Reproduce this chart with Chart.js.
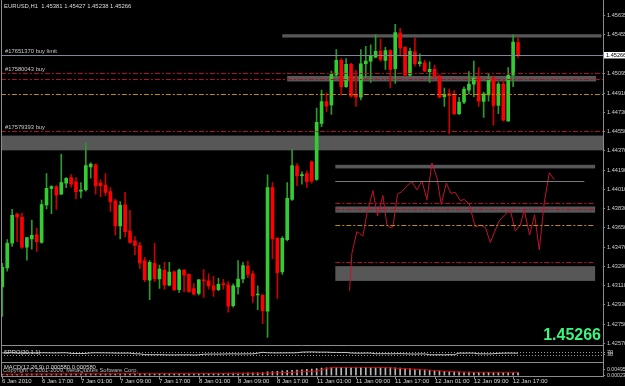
<!DOCTYPE html>
<html>
<head>
<meta charset="utf-8">
<script src="https://cdn.jsdelivr.net/npm/chart.js@4.4.1/dist/chart.umd.min.js"></script>
<style>
html,body{margin:0;padding:0;background:#000;}
body{width:625px;height:386px;position:relative;overflow:hidden;}
canvas{position:absolute;left:0;}
</style>
</head>
<body>
<canvas id="mainC" width="625" height="386" style="top:0"></canvas>
<canvas id="oscC" width="625" height="17" style="top:345px"></canvas>
<canvas id="macdC" width="625" height="24" style="top:362px"></canvas>
<script>
// ---------------- DATA ----------------
const symbolTitle = 'EURUSD,H1  1.45381 1.45427 1.45238 1.45266';
const timeLabels = ['6 Jan 2010','6 Jan 17:00','7 Jan 01:00','7 Jan 09:00','7 Jan 17:00','8 Jan 01:00','8 Jan 09:00','8 Jan 17:00','11 Jan 01:00','11 Jan 09:00','11 Jan 17:00','12 Jan 01:00','12 Jan 09:00','12 Jan 17:00'];
const timeLabelIdx = [0,8,16,24,32,40,48,56,64,72,80,88,96,104];
const priceTicks = [1.45635,1.45455,1.45095,1.44910,1.44730,1.44550,1.44370,1.44190,1.44010,1.43830,1.43650,1.43470,1.43290,1.43110,1.42930,1.42750,1.42570];
const lastPrice = 1.45266;

const opens = [
1.43097,1.43275,1.43505,1.43779,1.43748,1.43468,1.43546,1.43585,1.43514,1.43864,
1.44018,1.44036,1.43965,1.44067,1.44119,1.44080,1.43993,1.44006,1.44220,1.44239,
1.44067,1.44048,1.43988,1.43901,1.43668,1.43864,1.43619,1.43527,1.43484,1.43343,
1.43159,1.43318,1.43171,1.43251,1.43113,1.43238,1.43070,1.43254,1.43214,1.43082,
1.43036,1.43159,1.43153,1.43107,1.43070,1.43125,1.43116,1.42922,1.43097,1.43171,
1.43291,1.43220,1.43021,1.43021,1.42870,1.44027,1.43551,1.43238,1.43539,1.43914,
1.44227,1.44138,1.44156,1.44266,1.44103,1.44625,1.44831,1.44800,1.45079,1.45215,
1.44969,1.45178,1.44892,1.44871,1.45184,1.45208,1.45245,1.45300,1.45215,1.45307,
1.45138,1.45470,1.45337,1.45076,1.45295,1.45184,1.45193,1.45111,1.45132,1.45070,
1.44877,1.44902,1.44886,1.44717,1.44825,1.44938,1.44994,1.45055,1.44831,1.44892,
1.45049,1.44794,1.44994,1.44650,1.45076,1.45381];
const highs = [
1.43318,1.43539,1.43822,1.43788,1.43788,1.43558,1.43723,1.43647,1.43910,1.44156,
1.44045,1.44045,1.44340,1.44119,1.44147,1.44119,1.44073,1.44441,1.44257,1.44248,
1.44098,1.44156,1.44027,1.43919,1.43895,1.43981,1.43813,1.43567,1.43514,1.43374,
1.43343,1.43505,1.43300,1.43327,1.43327,1.43245,1.43266,1.43258,1.43220,1.43128,
1.43168,1.43260,1.43220,1.43196,1.43177,1.43168,1.43146,1.43125,1.43343,1.43327,
1.43337,1.43245,1.43107,1.43024,1.44144,1.44073,1.43558,1.43567,1.44073,1.44386,
1.44251,1.44174,1.44181,1.44276,1.44770,1.44938,1.44911,1.45116,1.45316,1.45233,
1.45233,1.45187,1.45125,1.45316,1.45346,1.45362,1.45454,1.45414,1.45337,1.45316,
1.45552,1.45516,1.45343,1.45331,1.45424,1.45276,1.45215,1.45203,1.45171,1.45076,
1.44957,1.44948,1.44932,1.44871,1.44969,1.45111,1.45208,1.45147,1.44920,1.45086,
1.45070,1.45009,1.45024,1.45147,1.45454,1.45427];
const lows = [
1.42821,1.43245,1.43475,1.43521,1.43456,1.43346,1.43450,1.43429,1.43505,1.43827,
1.43781,1.43822,1.43963,1.44024,1.44030,1.43919,1.43929,1.43993,1.44113,1.43965,
1.43941,1.43951,1.43803,1.43582,1.43546,1.43567,1.43505,1.43398,1.43270,1.43146,
1.42978,1.43146,1.43082,1.43076,1.43107,1.43061,1.43045,1.43051,1.43045,1.43021,
1.43021,1.42999,1.43076,1.43008,1.43061,1.43076,1.42861,1.42907,1.43030,1.43137,
1.43183,1.42953,1.42883,1.42754,1.42625,1.43362,1.42990,1.43214,1.43527,1.43905,
1.44043,1.44057,1.44027,1.44067,1.44092,1.44595,1.44733,1.44711,1.45055,1.44892,
1.44963,1.44871,1.44785,1.44846,1.45055,1.45009,1.45239,1.45208,1.45132,1.44957,
1.45000,1.45254,1.45067,1.45067,1.45162,1.45162,1.45111,1.45009,1.45058,1.44865,
1.44785,1.44527,1.44708,1.44708,1.44810,1.44902,1.44877,1.44785,1.44681,1.44834,
1.44610,1.44717,1.44650,1.44644,1.44969,1.45238];
const closes = [
1.43281,1.43505,1.43767,1.43748,1.43468,1.43558,1.43579,1.43521,1.43868,1.44018,
1.44036,1.43956,1.44073,1.44113,1.44057,1.43988,1.44002,1.44232,1.44245,1.44043,
1.44043,1.43981,1.43895,1.43668,1.43859,1.43613,1.43514,1.43484,1.43321,1.43165,
1.43327,1.43174,1.43263,1.43116,1.43235,1.43070,1.43254,1.43208,1.43054,1.43030,
1.43162,1.43153,1.43107,1.43067,1.43122,1.43119,1.42916,1.43107,1.43171,1.43297,
1.43214,1.43012,1.43027,1.42874,1.44027,1.43546,1.43229,1.43551,1.43926,1.44232,
1.44135,1.44144,1.44082,1.44089,1.44635,1.44831,1.44788,1.45086,1.45215,1.44969,
1.45178,1.44880,1.44871,1.45184,1.45208,1.45261,1.45300,1.45224,1.45307,1.45132,
1.45475,1.45331,1.45076,1.45300,1.45184,1.45203,1.45116,1.45132,1.45065,1.44871,
1.44895,1.44886,1.44717,1.44825,1.44948,1.44994,1.45049,1.44834,1.44902,1.45040,
1.44794,1.44994,1.44656,1.45076,1.45387,1.45266];

// overlay red line (bar position, price)
const overlayX = [70.69,71.18,72.19,72.72,73.42,74.23,75.45,76.39,77.49,78.31,78.98,79.53,80.46,81.36,82.24,83.40,84.41,85.43,86.45,87.47,88.49,89.37,90.39,91.34,92.22,93.24,94.05,95.07,96.29,97.45,98.39,99.35,100.37,101.18,102.20,103.42,104.44,105.46,106.27,107.35,108.37,109.33,110.35,111.37,112.38];
const overlayY = [1.43061,1.43413,1.43613,1.43597,1.43573,1.43781,1.43997,1.43760,1.43951,1.43675,1.43652,1.43659,1.43965,1.43988,1.44034,1.44080,1.44004,1.44089,1.43912,1.44257,1.44119,1.43868,1.44067,1.43972,1.43981,1.43905,1.43914,1.43873,1.43659,1.43675,1.43650,1.43512,1.43629,1.43714,1.43767,1.43818,1.43622,1.43675,1.43818,1.43582,1.43772,1.43444,1.43889,1.44165,1.44098];

// grey zones (price top, price bottom, from bar, to bar)
const zoneTop    = [1.45460,1.45070,1.44512,1.44239,1.43849,1.43291];
const zoneBottom = [1.45429,1.45018,1.44374,1.44205,1.43791,1.43153];
const zoneFrom   = [57.0,58.0,-0.3,67.8,67.8,67.8];
const zoneTo     = [122.0,120.9,122.3,120.7,120.7,120.7];

// horizontal levels
const levelPrice = [1.45266,1.45098,1.45037,1.44899,1.44552,1.44089,1.43877,1.43822,1.43677,1.43328];
const levelKind  = ['bid','order','order','gold','order','grey','order','order','gold','order'];
const levelFrom  = [-0.3,-0.3,-0.3,-0.3,-0.3,67.8,67.8,67.8,67.8,67.8];
const levelTo    = [122.3,122.3,122.3,122.3,122.3,118.5,120.7,120.7,120.7,120.7];
const orderText  = ['#17651370 buy limit','#17580043 buy','','','#17579393 buy','','','','',''];

// oscillator (0..100)
const oscName = 'SPRO(30,1.1)';
const oscValues = [
60,61,62,60,58,59,61,60,62,61,
60,59,61,62,52,50,49,51,60,62,
61,60,59,57,56,57,56,46,44,32,
31,30,32,29,28,27,29,28,30,26,
29,38,40,41,40,42,44,45,43,44,
45,44,55,69,62,60,59,60,61,60,
62,72,74,75,73,71,72,68,67,66,
67,58,56,55,57,56,47,46,48,45,
47,48,46,42,41,43,44,30,29,31,
28,32,30,56,55,57,56,45,46,44,
47,53,55,57,56,55];
const oscLevels = [70,30];

// MACD
const macdName = 'MACD(12,26,9) 0.000580 0.000580';
const copyrightText = 'Copyright \u00a9 2001-2009, MetaQuotes Software Corp.';
const macdLabels = [0.00495,0.00023];
const macdMain = [
0.0010,0.0010,0.0011,0.0011,0.0011,0.0012,0.0012,0.0012,0.0013,0.0013,
0.0013,0.0013,0.0014,0.0014,0.0014,0.0014,0.0015,0.0015,0.0015,0.0016,
0.0016,0.0016,0.0016,0.0016,0.0016,0.0017,0.0017,0.0017,0.0017,0.0017,
0.0017,0.0017,0.0018,0.0018,0.0018,0.0018,0.0018,0.0018,0.0019,0.0019,
0.0019,0.0019,0.0019,0.0020,0.0020,0.0020,0.0021,0.0021,0.0022,0.0022,
0.0023,0.0024,0.0025,0.0026,0.0033,0.0036,0.0038,0.0041,0.0044,0.0047,
0.0049,0.0051,0.0055,0.0058,0.0062,0.0066,0.0069,0.0072,0.0073,0.0074,
0.0074,0.0074,0.0073,0.0073,0.0073,0.0072,0.0072,0.0072,0.0071,0.0070,
0.0068,0.0066,0.0064,0.0061,0.0058,0.0055,0.0051,0.0047,0.0044,0.0041,
0.0038,0.0036,0.0034,0.0032,0.0031,0.0030,0.0029,0.0029,0.0028,0.0028,
0.0027,0.0027,0.0026,0.0026,0.0026,0.0026];
const macdSignal = [
0.0013,0.0013,0.0013,0.0013,0.0013,0.0013,0.0013,0.0013,0.0014,0.0014,
0.0014,0.0014,0.0014,0.0014,0.0014,0.0015,0.0015,0.0015,0.0015,0.0015,
0.0015,0.0015,0.0015,0.0016,0.0016,0.0016,0.0016,0.0016,0.0016,0.0016,
0.0016,0.0016,0.0017,0.0017,0.0017,0.0017,0.0017,0.0017,0.0017,0.0017,
0.0018,0.0018,0.0018,0.0018,0.0018,0.0018,0.0018,0.0019,0.0019,0.0019,
0.0019,0.0020,0.0020,0.0021,0.0022,0.0023,0.0024,0.0026,0.0027,0.0029,
0.0031,0.0033,0.0035,0.0037,0.0039,0.0050,0.0062,0.0070,0.0072,0.0073,
0.0073,0.0073,0.0073,0.0073,0.0073,0.0073,0.0072,0.0072,0.0071,0.0068,
0.0066,0.0063,0.0061,0.0058,0.0055,0.0052,0.0050,0.0049,0.0045,0.0042,
0.0039,0.0037,0.0034,0.0032,0.0030,0.0029,0.0029,0.0029,0.0029,0.0029,
0.0029,0.0029,0.0029,0.0029,0.0029,0.0029];

// ---------------- RENDER ----------------
const FONT = '"Liberation Sans", Arial, sans-serif';
Chart.defaults.font.family = FONT;
const X_MIN = -0.27, X_MAX = 122.3;
const GREEN = '#32cd32', RED = '#ff0000', GREEN_W = '#2a9a2a', RED_W = '#c80000';
const FRAME = '#8c8c8c';
const isUp = i => closes[i] >= opens[i];

function px(chart, v){ return chart.scales.x.getPixelForValue(v); }
function py(chart, v){ return chart.scales.y.getPixelForValue(v); }

const mainPlugin = {
  id: 'mainDecor',
  beforeDatasetsDraw(chart){
    const c = chart.ctx; c.save();
    zoneTop.forEach((t,i)=>{
      const x0 = px(chart, zoneFrom[i]), x1 = px(chart, zoneTo[i]);
      const y0 = py(chart, t), y1 = py(chart, zoneBottom[i]);
      c.fillStyle = '#575757';
      c.fillRect(x0, y0, x1-x0, y1-y0);
    });
    c.restore();
  },
  afterDatasetsDraw(chart){
    const c = chart.ctx; c.save();
    levelPrice.forEach((p,i)=>{
      const y = Math.round(py(chart,p)) + 0.5;
      const x0 = px(chart, levelFrom[i]), x1 = px(chart, levelTo[i]);
      const k = levelKind[i];
      c.lineWidth = 1;
      if(k==='bid'){ c.strokeStyle = '#7f8696'; c.setLineDash([]); }
      else if(k==='grey'){ c.strokeStyle = '#7a7a7a'; c.setLineDash([]); }
      else if(k==='gold'){ c.strokeStyle = '#c08c00'; c.setLineDash([5,2,2,2]); }
      else { c.strokeStyle = '#b0102a'; c.setLineDash([5,2,2,2]); }
      c.beginPath(); c.moveTo(x0,y); c.lineTo(x1,y); c.stroke();
      if(orderText[i]){
        c.setLineDash([]);
        c.fillStyle = '#c8c8c8';
        c.font = '5.8px ' + FONT;
        c.textBaseline = 'bottom'; c.textAlign = 'left';
        c.fillText(orderText[i], 5, y - 1.5);
      }
    });
    c.restore();
  },
  afterDraw(chart){
    const c = chart.ctx; c.save();
    c.strokeStyle = FRAME; c.lineWidth = 1; c.setLineDash([]);
    c.beginPath();
    c.moveTo(1.5,0); c.lineTo(1.5,376.5);
    c.moveTo(603.5,0); c.lineTo(603.5,376.5);
    [345.5,362.5,376.5].forEach(y=>{ c.moveTo(1,y); c.lineTo(604,y); });
    c.stroke();
    c.fillStyle = '#dcdcdc';
    c.font = '5.9px ' + FONT;
    c.textBaseline = 'middle'; c.textAlign = 'left';
    c.fillText(symbolTitle, 4, 6.5);
    const yb = py(chart, lastPrice);
    c.fillStyle = '#ffffff';
    c.fillRect(604, yb-3, 21, 6.5);
    c.fillStyle = '#000000';
    c.font = '5.6px ' + FONT;
    c.fillText(lastPrice.toFixed(5), 606, yb+0.3);
    c.fillStyle = '#3cf57d';
    c.font = 'bold 16px ' + FONT;
    c.textAlign = 'right'; c.textBaseline = 'alphabetic';
    c.fillText(lastPrice.toFixed(5), 601, 340);
    c.restore();
  }
};

new Chart(document.getElementById('mainC'), {
  type: 'bar',
  data: {
    datasets: [
      { label:'wick', data: lows.map((l,i)=>({x:i, y:[l, highs[i]]})), barThickness:1, grouped:false, order:3,
        backgroundColor: ctx => isUp(ctx.dataIndex) ? GREEN_W : RED_W },
      { label:'body', data: opens.map((o,i)=>({x:i, y:[o, closes[i]]})), barThickness:3, minBarLength:1, grouped:false, order:2,
        backgroundColor: ctx => isUp(ctx.dataIndex) ? GREEN : RED },
      { type:'line', label:'overlay', data: overlayX.map((x,i)=>({x, y:overlayY[i]})), borderColor:'#c4122e', borderWidth:1,
        pointRadius:0, tension:0, order:1 }
    ]
  },
  options: {
    responsive:false, animation:false, devicePixelRatio:1,
    layout:{ padding:{left:1, right:0, top:0, bottom:42}, autoPadding:false },
    plugins:{ legend:{display:false}, tooltip:{enabled:false} },
    scales:{
      x:{ type:'linear', min:X_MIN, max:X_MAX, display:false, offset:false },
      y:{ position:'right', min:1.42563, max:1.45730,
          afterFit(s){ s.width = 22; },
          afterBuildTicks(s){ s.ticks = priceTicks.map(v=>({value:v})); },
          ticks:{ color:'#d0d0d0', font:{size:5.6, family:FONT}, padding:2, autoSkip:false, callback:v=>Number(v).toFixed(5) },
          grid:{ drawOnChartArea:false, color:FRAME, tickLength:2 },
          border:{ display:false } }
    }
  },
  plugins:[mainPlugin]
});

const oscPlugin = {
  id:'oscDecor',
  beforeDatasetsDraw(chart){
    const c = chart.ctx; c.save();
    c.strokeStyle = '#9a9a9a'; c.setLineDash([1,2]); c.lineWidth = 1;
    oscLevels.forEach(l=>{
      const y = Math.round(py(chart,l))+0.5;
      c.beginPath(); c.moveTo(chart.chartArea.left,y); c.lineTo(chart.chartArea.right,y); c.stroke();
    });
    c.restore();
  },
  afterDraw(chart){
    const c = chart.ctx; c.save();
    c.fillStyle = '#dcdcdc'; c.font = '5.8px ' + FONT;
    c.textBaseline = 'middle'; c.textAlign = 'left';
    c.fillText(oscName, 4, 7);
    c.restore();
  }
};
new Chart(document.getElementById('oscC'), {
  type:'line',
  data:{ datasets:[{ data: oscValues.map((v,i)=>({x:i,y:v})), borderColor:'#c8c8c8', borderWidth:1, pointRadius:0, tension:0 }]},
  options:{
    responsive:false, animation:false, devicePixelRatio:1,
    layout:{ padding:{left:1,right:0,top:1,bottom:0}, autoPadding:false },
    plugins:{ legend:{display:false}, tooltip:{enabled:false} },
    scales:{
      x:{ type:'linear', min:X_MIN, max:X_MAX, display:false },
      y:{ position:'right', min:0, max:100, afterFit(s){ s.width=22; },
          afterBuildTicks(s){ s.ticks = oscLevels.map(v=>({value:v})); },
          ticks:{ color:'#d0d0d0', font:{size:5.6,family:FONT}, padding:2, autoSkip:false },
          grid:{ drawOnChartArea:false, color:FRAME, tickLength:2 }, border:{display:false} }
    }
  },
  plugins:[oscPlugin]
});

const macdPlugin = {
  id:'macdDecor',
  afterDraw(chart){
    const c = chart.ctx; c.save();
    c.font = '5.8px ' + FONT; c.textBaseline = 'middle'; c.textAlign = 'left';
    c.fillStyle = '#dcdcdc';
    c.fillText(macdName, 4, 5.5);
    c.fillStyle = '#bdbdbd';
    c.fillText(copyrightText, 3, 8);
    c.strokeStyle = FRAME; c.lineWidth = 1;
    c.font = '6px ' + FONT; c.fillStyle = '#d8d8d8';
    timeLabelIdx.forEach((idx,i)=>{
      const x = Math.round(px(chart, idx)) + 0.5;
      c.beginPath(); c.moveTo(x, 14.5); c.lineTo(x, 17); c.stroke();
      c.fillText(timeLabels[i], x - 0.5, 19.8);
    });
    c.restore();
  }
};
new Chart(document.getElementById('macdC'), {
  type:'bar',
  data:{ datasets:[
    { data: macdMain.map((v,i)=>({x:i,y:v})), backgroundColor:'#b8b8b8', barThickness:1, order:2 },
    { type:'line', data: macdSignal.map((v,i)=>({x:i,y:v})), borderColor:'#d00000', borderWidth:1, pointRadius:0, tension:0, order:1 }
  ]},
  options:{
    responsive:false, animation:false, devicePixelRatio:1,
    layout:{ padding:{left:1,right:0,top:1,bottom:10.5}, autoPadding:false },
    plugins:{ legend:{display:false}, tooltip:{enabled:false} },
    scales:{
      x:{ type:'linear', min:X_MIN, max:X_MAX, display:false, offset:false },
      y:{ position:'right', min:0, max:0.0075, afterFit(s){ s.width=22; },
          afterBuildTicks(s){ s.ticks = macdLabels.map(v=>({value:v})); },
          ticks:{ color:'#d0d0d0', font:{size:5.2,family:FONT}, padding:2, autoSkip:false, callback:v=>Number(v).toFixed(5) },
          grid:{ drawOnChartArea:false, color:FRAME, tickLength:2 }, border:{display:false} }
    }
  },
  plugins:[macdPlugin]
});
</script>
</body>
</html>
